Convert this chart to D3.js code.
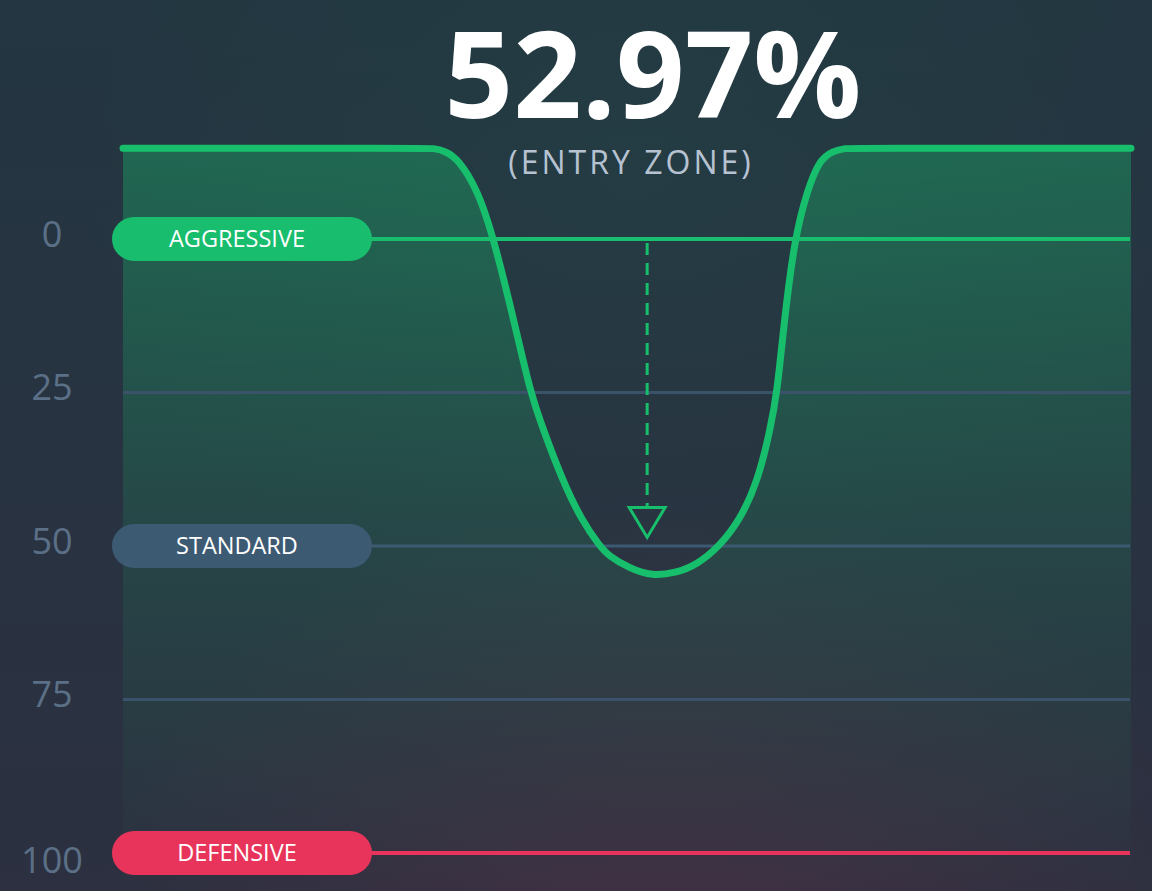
<!DOCTYPE html>
<html>
<head>
<meta charset="utf-8">
<script src="https://cdn.jsdelivr.net/npm/d3@7"></script>
<style>
  html, body { margin: 0; padding: 0; background: #243340; }
  svg { display: block; font-family: "Open Sans", "Noto Sans", sans-serif; }
</style>
</head>
<body>
<svg id="chart" width="1152" height="891"></svg>
<script>
// ---- data ----
const headline = "52.97%";
const subtitle = "(ENTRY ZONE)";

// tick values on the left axis
const tickValues = [0, 25, 50, 75, 100];

// zone bands drawn as pill + line
const zoneNames = ["AGGRESSIVE", "STANDARD", "DEFENSIVE"];
const zoneValues = [0, 50, 100];
const zoneColors = ["#18bd6e", "#3d5a73", "#e8345a"];

// curve, x in % of plot width, y in axis units
const curveX = [0, 1, 29.5, 30.8, 32.0, 33.2, 35.2, 36.8, 39.0, 40.4, 41.7, 43.6, 45.5, 47.3, 48.1, 50.3,
                52.5, 54.8, 56.9, 59.2, 61.2, 63.0, 64.2, 64.9, 65.5, 66.6, 67.9, 69.1, 70.4, 71.6, 73.0, 99, 100];
const curveY = [-14.8, -14.8, -14.8, -14.8, -14.3, -13.1, -8.0, 0, 14.8, 24.9, 31.1, 39.3, 45.8, 50.0, 51.5, 53.7,
                54.9, 54.4, 53.1, 50.0, 45.8, 39.3, 31.1, 24.9, 14.8, 0, -8.0, -12.9, -14.3, -14.8, -14.8, -14.8, -14.8];

// arrow marker: from the aggressive line down to this value
const markerX = [52.0];
const markerFrom = [0];
const markerTo = [48.6];

// ---- setup ----
const width = 1152, height = 891;
const svg = d3.select("#chart");

const x = d3.scaleLinear().domain([0, 100]).range([123, 1131]);
const y = d3.scaleLinear().domain([0, 100]).range([239, 853]);

const defs = svg.append("defs");

let bg = defs.append("linearGradient").attr("id", "bg")
    .attr("x1", 0).attr("y1", 0).attr("x2", 0).attr("y2", 1);
bg.append("stop").attr("offset", "0%").attr("stop-color", "#233641");
bg.append("stop").attr("offset", "100%").attr("stop-color", "#2c3040");

let redGlow = defs.append("radialGradient").attr("id", "redGlow")
    .attr("cx", 0.58).attr("cy", 1.05).attr("r", 0.5);
redGlow.append("stop").attr("offset", "0%").attr("stop-color", "#e8345a").attr("stop-opacity", 0.11);
redGlow.append("stop").attr("offset", "100%").attr("stop-color", "#e8345a").attr("stop-opacity", 0);

let greenGlow = defs.append("radialGradient").attr("id", "greenGlow")
    .attr("cx", 0.55).attr("cy", 0.2).attr("r", 0.5);
greenGlow.append("stop").attr("offset", "0%").attr("stop-color", "#18bd6e").attr("stop-opacity", 0.05);
greenGlow.append("stop").attr("offset", "100%").attr("stop-color", "#18bd6e").attr("stop-opacity", 0);

let areaFill = defs.append("linearGradient").attr("id", "areaFill")
    .attr("gradientUnits", "userSpaceOnUse")
    .attr("x1", 0).attr("y1", y(-14.8)).attr("x2", 0).attr("y2", height);
areaFill.append("stop").attr("offset", "0%").attr("stop-color", "#18bd6e").attr("stop-opacity", 0.36);
areaFill.append("stop").attr("offset", "55%").attr("stop-color", "#18bd6e").attr("stop-opacity", 0.13);
areaFill.append("stop").attr("offset", "100%").attr("stop-color", "#18bd6e").attr("stop-opacity", 0.0);

svg.append("rect").attr("width", width).attr("height", height).attr("fill", "url(#bg)");
svg.append("rect").attr("width", width).attr("height", height).attr("fill", "url(#greenGlow)");
svg.append("rect").attr("width", width).attr("height", height).attr("fill", "url(#redGlow)");

// ---- area + grid ----
let pts = curveX.map((d, i) => [d, curveY[i]]);
let curveType = d3.curveBasis;

let area = d3.area()
    .x(d => x(d[0]))
    .y0(height + 20)
    .y1(d => y(d[1]))
    .curve(curveType);

svg.append("path").datum(pts)
    .attr("d", area)
    .attr("fill", "url(#areaFill)");

// plain grid lines (ticks without a zone)
svg.append("g").selectAll("line")
    .data(tickValues.filter(d => zoneValues.indexOf(d) < 0))
    .join("line")
    .attr("x1", x(0)).attr("x2", x(100) - 1)
    .attr("y1", d => y(d)).attr("y2", d => y(d))
    .attr("stroke", "#3a536b").attr("stroke-width", 3);

// tick labels (last one sits a bit below its line)
svg.append("g").selectAll("text")
    .data(tickValues)
    .join("text")
    .attr("x", 52)
    .attr("y", (d, i) => i === tickValues.length - 1 ? y(d) + 7 : y(d) - 5)
    .attr("dy", "0.36em")
    .attr("text-anchor", "middle")
    .attr("font-size", 36)
    .attr("fill", "#5b7086")
    .text(d => d);

// zone lines and pills
let zones = svg.append("g").selectAll("g")
    .data(zoneNames)
    .join("g");

zones.append("line")
    .attr("x1", 340).attr("x2", x(100) - 1)
    .attr("y1", (d, i) => y(zoneValues[i])).attr("y2", (d, i) => y(zoneValues[i]))
    .attr("stroke", (d, i) => zoneColors[i])
    .attr("stroke-width", (d, i) => i === 1 ? 3 : 4);

zones.append("rect")
    .attr("x", 112).attr("width", 260)
    .attr("y", (d, i) => y(zoneValues[i]) - 22).attr("height", 44)
    .attr("rx", 22)
    .attr("fill", (d, i) => zoneColors[i]);

zones.append("text")
    .attr("x", 237)
    .attr("y", (d, i) => y(zoneValues[i]))
    .attr("dy", "0.36em")
    .attr("text-anchor", "middle")
    .attr("font-size", 23.5)
    .attr("fill", "#ffffff")
    .text(d => d);

// ---- the curve ----
let line = d3.line()
    .x(d => x(d[0]))
    .y(d => y(d[1]))
    .curve(curveType);

svg.append("path").datum(pts)
    .attr("d", line)
    .attr("fill", "none")
    .attr("stroke", "#17be6c")
    .attr("stroke-width", 7)
    .attr("stroke-linecap", "round")
    .attr("stroke-linejoin", "round");

// ---- arrow marker ----
let mk = svg.append("g");
markerX.forEach(function(mx, i) {
    let px = x(mx);
    let tipY = y(markerTo[i]);
    let triH = 30, triW = 36;
    mk.append("line")
        .attr("x1", px).attr("x2", px)
        .attr("y1", y(markerFrom[i]) + 4).attr("y2", tipY - triH)
        .attr("stroke", "#17be6c").attr("stroke-width", 3)
        .attr("stroke-dasharray", "12,8");
    mk.append("path")
        .attr("d", `M ${px - triW / 2} ${tipY - triH} L ${px + triW / 2} ${tipY - triH} L ${px} ${tipY} Z`)
        .attr("fill", "none")
        .attr("stroke", "#17be6c").attr("stroke-width", 3)
        .attr("stroke-linejoin", "miter");
});

// ---- headline ----
svg.append("text")
    .attr("x", 653).attr("y", 118)
    .attr("text-anchor", "middle")
    .attr("font-size", 120)
    .attr("font-weight", 700)
    .attr("fill", "#ffffff")
    .text(headline);

svg.append("text")
    .attr("x", 631).attr("y", 174)
    .attr("text-anchor", "middle")
    .attr("font-size", 32)
    .attr("letter-spacing", 3)
    .attr("fill", "#b6c2d1")
    .text(subtitle);
</script>
</body>
</html>
